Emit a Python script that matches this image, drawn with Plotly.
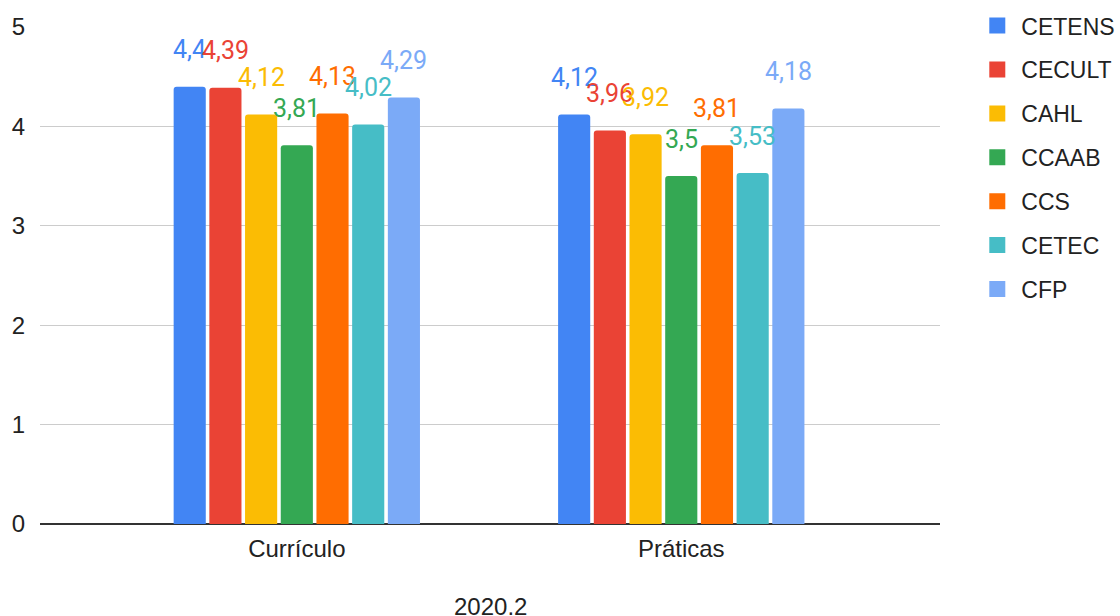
import plotly.graph_objects as go

categories = ["Currículo", "Práticas"]
series_names = ["CETENS", "CECULT", "CAHL", "CCAAB", "CCS", "CETEC", "CFP"]
colors = ["#4285F4", "#EA4335", "#FBBC04", "#34A853", "#FF6D01", "#46BDC6", "#7BAAF7"]
values = {
    "CETENS": [4.4, 4.12],
    "CECULT": [4.39, 3.96],
    "CAHL": [4.12, 3.92],
    "CCAAB": [3.81, 3.5],
    "CCS": [4.13, 3.81],
    "CETEC": [4.02, 3.53],
    "CFP": [4.29, 4.18],
}
x_title = "2020.2"
y_ticks = [0, 1, 2, 3, 4, 5]

def fmt(v):
    s = ("%.2f" % v).rstrip("0").rstrip(".")
    return s.replace(".", ",")

BARGAP = 0.35
GROUPGAP = 0.1
FS = 24

fig = go.Figure()
for name, col in zip(series_names, colors):
    fig.add_trace(go.Bar(
        x=categories, y=values[name], name=name, showlegend=False,
        marker=dict(color=col, cornerradius=3, line=dict(width=0)),
        hoverinfo="y+name",
    ))
for name, col in zip(series_names, colors):
    fig.add_trace(go.Scatter(
        x=[None], y=[None], name=name, mode="markers", legendgroup=name,
        marker=dict(color=col, symbol="square", size=16, line=dict(width=0)),
    ))

n = len(series_names)
slot = (1 - BARGAP) / n
annotations = []
for k, (name, col) in enumerate(zip(series_names, colors)):
    off = -(1 - BARGAP) / 2 + (k + 0.5) * slot
    for j, v in enumerate(values[name]):
        annotations.append(dict(
            x=j + off, y=v, xref="x", yref="y", text=fmt(v), showarrow=False,
            yshift=37, yanchor="middle", xanchor="center",
            font=dict(family="Roboto", size=25, color=col),
        ))
annotations.append(dict(
    x=0.5, y=0, xref="paper", yref="paper", text=x_title, showarrow=False,
    yshift=-82, yanchor="middle", xanchor="center",
    font=dict(family="Liberation Sans, Arial", size=FS, color="#222222"),
))

fig.update_layout(
    width=1120, height=616,
    margin=dict(l=40, r=180, t=27, b=92, autoexpand=False),
    paper_bgcolor="white", plot_bgcolor="white",
    barmode="group", bargap=BARGAP, bargroupgap=GROUPGAP,
    font=dict(family="Liberation Sans, Arial", size=FS, color="#222222"),
    annotations=annotations,
    legend=dict(
        x=1.037, y=1.046, xanchor="left", yanchor="top",
        font=dict(family="Liberation Sans, Arial", size=23, color="#222222"),
        tracegroupgap=11, itemwidth=38, maxheight=1,
    ),
    xaxis=dict(
        type="category", range=[-0.668, 1.673], automargin=False,
        showgrid=False, showline=False, ticks="",
        tickfont=dict(size=FS, color="#222222"), ticklabelstandoff=8,
    ),
    yaxis=dict(
        range=[0, 5], tickvals=y_ticks, showgrid=True, gridcolor="#cccccc", gridwidth=1,
        zeroline=True, zerolinecolor="#333333", zerolinewidth=2, automargin=False,
        ticks="", ticklabelstandoff=14,
        tickfont=dict(size=FS, color="#222222"),
    ),
)

fig.write_html("out.html")
